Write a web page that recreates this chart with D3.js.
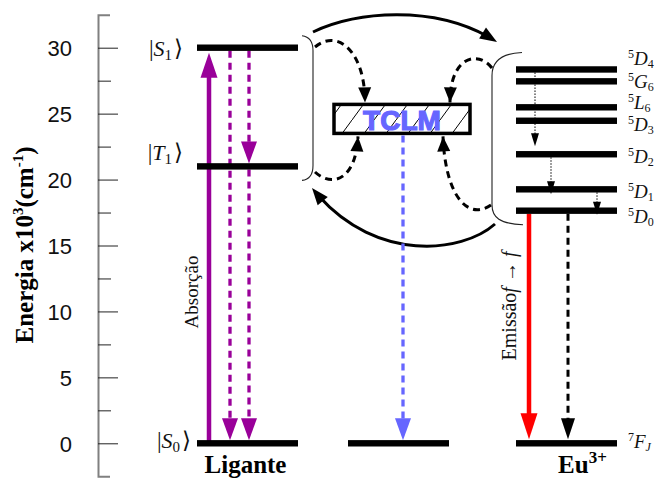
<!DOCTYPE html>
<html>
<head>
<meta charset="utf-8">
<script src="https://cdn.jsdelivr.net/npm/d3@7"></script>
<style>
  body { margin: 0; background: #fff; }
  svg { display: block; }
</style>
</head>
<body>
<svg id="chart" width="667" height="479"></svg>
<script>
// ---------- data (energies in 10^3 cm^-1) ----------
const columns = ["Ligante", "TCLM", "Eu3+"];

const ligandLevels = [
  { key: "S1", name: "S", sub: "1", value: 30.0 },
  { key: "T1", name: "T", sub: "1", value: 21.0 },
  { key: "S0", name: "S", sub: "0", value: 0.0 }
];

const tclmLevels = [
  { key: "G", value: 0.0 }
];
const tclmBand = [23.5, 25.7];          // lower / upper edge of the TCLM state

const euLevels = [
  { key: "5D4", sup: "5", name: "D", sub: "4", value: 28.35 },
  { key: "5G6", sup: "5", name: "G", sub: "6", value: 27.45 },
  { key: "5L6", sup: "5", name: "L", sub: "6", value: 25.48 },
  { key: "5D3", sup: "5", name: "D", sub: "3", value: 24.46 },
  { key: "5D2", sup: "5", name: "D", sub: "2", value: 21.92 },
  { key: "5D1", sup: "5", name: "D", sub: "1", value: 19.26 },
  { key: "5D0", sup: "5", name: "D", sub: "0", value: 17.64 },
  { key: "7FJ", sup: "7", name: "F", sub: "J", value: 0.0 }
];

const majorTicks = [0, 5, 10, 15, 20, 25, 30];
const minorTicks = [2.5, 7.5, 12.5, 17.5, 22.5, 27.5];

// vertical transitions
const ligandTransitions = [
  { from: "S0", to: "S1", style: "absorb" },
  { from: "S1", to: "S0", style: "purpleDash" },
  { from: "S1", to: "T1", style: "purpleDash" },
  { from: "T1", to: "S0", style: "purpleDash" }
];
const euTransitions = [
  { from: "5D0", to: "7FJ", style: "red" },
  { from: "5D0", to: "7FJ", style: "blackDash" }
];
const euRelax = [
  { from: "5D4", to: "5D2" },
  { from: "5D2", to: "5D1" },
  { from: "5D1", to: "5D0" }
];

// ---------- layout ----------
const svg = d3.select("#chart");
const y = d3.scaleLinear().domain([0, 30]).range([443.3, 47.7]);
const colLeft = d3.scaleOrdinal().domain(columns).range([197, 348, 516]);
const barW = 101;
const axisX = 98;

const serif = "'Liberation Serif', 'DejaVu Serif', serif";
const sans = "'Liberation Sans', Arial, sans-serif";
const PURPLE = "#990099", BLUE = "#6666ff", RED = "#ff0000";

const byKey = arr => Object.fromEntries(arr.map(d => [d.key, d]));
const L = byKey(ligandLevels), E = byKey(euLevels);

// ---------- defs ----------
const defs = svg.append("defs");
const hatch = defs.append("pattern")
  .attr("id", "hatch").attr("patternUnits", "userSpaceOnUse")
  .attr("width", 22).attr("height", 30);
hatch.append("line").attr("x1", 0).attr("y1", 30).attr("x2", 22).attr("y2", 0)
  .attr("stroke", "#000").attr("stroke-width", 1);

// ---------- axis ----------
const axisG = svg.append("g").attr("transform", `translate(${axisX},0)`);
const yAxis = d3.scaleLinear().domain([-2.5, 32.5]).range([y(-2.5), y(32.5)]);
axisG.call(d3.axisLeft(yAxis).tickValues(majorTicks).tickSize(-20).tickSizeOuter(-12)
  .tickPadding(26).tickFormat(d3.format("d")));
axisG.select(".domain").attr("stroke", "#808080").attr("stroke-width", 2);
axisG.selectAll(".tick line").attr("stroke", "#222").attr("stroke-width", 1);
axisG.selectAll(".tick text").attr("font-family", sans).attr("font-size", 22)
  .attr("fill", "#111").attr("dy", "0.36em");

const minorG = svg.append("g").attr("transform", `translate(${axisX},0)`);
minorG.call(d3.axisLeft(yAxis).tickValues(minorTicks).tickSize(-13).tickFormat(""));
minorG.select(".domain").remove();
minorG.selectAll(".tick line").attr("stroke", "#222").attr("stroke-width", 1);

// axis title
const title = svg.append("text")
  .attr("transform", "translate(33,245) rotate(-90)")
  .attr("text-anchor", "middle")
  .attr("font-family", serif).attr("font-weight", "bold").attr("font-size", 25)
  .attr("fill", "#000");
title.append("tspan").text("Energia x10");
title.append("tspan").attr("font-size", 15).attr("dy", -10).text("3");
title.append("tspan").attr("dy", 10).text("(cm");
title.append("tspan").attr("font-size", 15).attr("dy", -10).text("-1");
title.append("tspan").attr("dy", 10).text(")");

// ---------- helpers ----------
function head(x, tip, dir, len, w, color) {
  // dir: +1 points down, -1 points up
  const b = tip - dir * len;
  svg.append("path")
    .attr("d", `M${x},${tip} L${x - w / 2},${b} L${x + w / 2},${b} Z`)
    .attr("fill", color);
}
function vArrow(x, y0, tip, opt) {
  const dir = tip > y0 ? 1 : -1;
  svg.append("line")
    .attr("x1", x).attr("x2", x).attr("y1", y0).attr("y2", tip - dir * opt.len * 0.6)
    .attr("stroke", opt.color).attr("stroke-width", opt.width)
    .attr("stroke-dasharray", opt.dash || null);
  head(x, tip, dir, opt.len, opt.head, opt.color);
}
function curveArrow(d, opt) {
  const p = svg.append("path").attr("d", d).attr("fill", "none")
    .attr("stroke", "#000").attr("stroke-width", opt.width)
    .attr("stroke-dasharray", opt.dash || null);
  const node = p.node(), total = node.getTotalLength();
  const tip = node.getPointAtLength(total);
  const back = node.getPointAtLength(total - 6);
  const ang = Math.atan2(tip.y - back.y, tip.x - back.x);
  const len = opt.len, w = opt.head;
  const bx = tip.x - len * Math.cos(ang), by = tip.y - len * Math.sin(ang);
  const nx = -Math.sin(ang) * w / 2, ny = Math.cos(ang) * w / 2;
  if (!opt.dash) p.attr("stroke-dasharray", `${total - len * 0.6} ${total}`);
  svg.append("path")
    .attr("d", `M${tip.x},${tip.y} L${bx + nx},${by + ny} L${bx - nx},${by - ny} Z`)
    .attr("fill", "#000");
}

// ---------- brackets and transfer curves ----------
const ligR = colLeft("Ligante") + barW;
const euL = colLeft("Eu3+");
const lbTop = y(L.S1.value) - 12, lbBot = y(L.T1.value) + 14;
svg.append("path")
  .attr("d", `M${ligR + 4},${lbTop} C${ligR + 12},${lbTop + 1} ${ligR + 15},${lbTop + 7} ${ligR + 15},${lbTop + 15}
              L${ligR + 15},${lbBot - 15} C${ligR + 15},${lbBot - 6} ${ligR + 12},${lbBot - 1} ${ligR + 4},${lbBot}`)
  .attr("fill", "none").attr("stroke", "#222").attr("stroke-width", 1.1);

const ebTop = y(E["5D4"].value) - 17, ebBot = y(E["5D0"].value) + 14;
svg.append("path")
  .attr("d", `M${euL + 6},${ebTop} C${euL - 16},${ebTop + 1} ${euL - 24},${ebTop + 10} ${euL - 24},${ebTop + 23}
              L${euL - 24},${ebBot - 20} C${euL - 24},${ebBot - 7} ${euL - 16},${ebBot - 1} ${euL + 7},${ebBot}`)
  .attr("fill", "none").attr("stroke", "#222").attr("stroke-width", 1.1);

// ligand -> Eu (top) and Eu -> ligand (back transfer, bottom)
curveArrow(`M313,32 C360,10 440,5 497,42`, { width: 3, len: 17, head: 13 });
curveArrow(`M495,224 C460,255 370,262 312,188`, { width: 3, len: 17, head: 13 });

// TCLM box
const boxX0 = 334, boxX1 = 470;
const boxY0 = y(tclmBand[1]), boxY1 = y(tclmBand[0]);

// dashed links to/from TCLM
curveArrow(`M315,47 C338,28 365,52 365,${boxY0 - 2}`, { width: 3, dash: "7,5", len: 15, head: 13 });
curveArrow(`M492,68 C478,50 450,56 450,${boxY0 - 2}`, { width: 3, dash: "7,5", len: 15, head: 13 });
curveArrow(`M315,172 C332,188 356,180 358,${boxY1 + 3}`, { width: 3, dash: "7,5", len: 15, head: 13 });
curveArrow(`M491,205 C466,222 445,192 443,${boxY1 + 3}`, { width: 3, dash: "7,5", len: 15, head: 13 });

svg.append("rect")
  .attr("x", boxX0).attr("y", boxY0).attr("width", boxX1 - boxX0).attr("height", boxY1 - boxY0)
  .attr("fill", "url(#hatch)").attr("stroke", "#000").attr("stroke-width", 3.5);
svg.append("text")
  .attr("x", (boxX0 + boxX1) / 2).attr("y", boxY1 - 3)
  .attr("text-anchor", "middle")
  .attr("font-family", sans).attr("font-weight", "900").attr("font-size", 28)
  .attr("fill", BLUE).attr("stroke", BLUE).attr("stroke-width", 1.2)
  .text("TCLM");

// ---------- vertical transitions ----------
const lx = colLeft("Ligante");
const ligX = { absorb: lx + 12, purpleDash: [lx + 33, lx + 52, lx + 52] };
let dashIdx = 0;
ligandTransitions.forEach(t => {
  const y0 = y(L[t.from].value), y1 = y(L[t.to].value);
  if (t.style === "absorb") {
    vArrow(ligX.absorb, y0, y1 + 5, { color: PURPLE, width: 4.5, len: 25, head: 17 });
  } else {
    const x = ligX.purpleDash[dashIdx++];
    vArrow(x, y0 + 3, y1 - 3, { color: PURPLE, width: 3.3, dash: "7,5", len: 22, head: 16 });
  }
});

// TCLM -> ground (non-radiative)
vArrow((boxX0 + boxX1) / 2 + 1, boxY1 + 2, y(tclmLevels[0].value) - 3,
  { color: BLUE, width: 3.3, dash: "7,5", len: 22, head: 16 });

// Eu emission and non-radiative decay
euTransitions.forEach(t => {
  const y0 = y(E[t.from].value), y1 = y(E[t.to].value);
  if (t.style === "red") vArrow(euL + 13, y0 + 3, y1 - 4, { color: RED, width: 4.5, len: 26, head: 17 });
  else vArrow(euL + 52, y0 + 3, y1 - 4, { color: "#000", width: 3, dash: "7,5", len: 21, head: 14 });
});

// internal relaxation between Eu levels (dotted)
const relaxX = [euL + 19, euL + 35, euL + 81];
const relaxTipShift = [-8, 5, 4];
euRelax.forEach((t, i) => {
  const y0 = y(E[t.from].value) + 3, tip = y(E[t.to].value) + relaxTipShift[i];
  svg.append("line").attr("x1", relaxX[i]).attr("x2", relaxX[i]).attr("y1", y0).attr("y2", tip - 8)
    .attr("stroke", "#000").attr("stroke-width", 1).attr("stroke-dasharray", "1.5,1.5");
  head(relaxX[i], tip, 1, 13, 8, "#000");
});

// ---------- level bars ----------
function bars(levels, col) {
  svg.append("g").selectAll("rect").data(levels).join("rect")
    .attr("x", colLeft(col)).attr("width", barW)
    .attr("y", d => y(d.value) - 3.2).attr("height", 6.4)
    .attr("fill", "#000");
}
bars(ligandLevels, "Ligante");
bars(tclmLevels, "TCLM");
bars(euLevels, "Eu3+");

// ---------- level labels ----------
const ligLabelPos = { S1: [183, 8], T1: [183, -6], S0: [191, 5] };
ligandLevels.forEach(d => {
  const [xr, dy] = ligLabelPos[d.key];
  const t = svg.append("text").attr("x", xr).attr("y", y(d.value) + dy)
    .attr("text-anchor", "end").attr("font-family", serif).attr("font-size", 22).attr("fill", "#111");
  t.append("tspan").attr("font-size", 23).text("|");
  t.append("tspan").attr("font-style", "italic").text(d.name);
  t.append("tspan").attr("font-size", 15).attr("dy", 4).text(d.sub);
  t.append("tspan").attr("dy", -4).attr("font-family", "'DejaVu Sans', sans-serif")
    .attr("font-size", 23).attr("dx", 2).text("\u27E9");
});

// Eu term symbols, nudged apart where levels crowd together
const euLabelShift = { "5D4": -4, "5G6": 7, "5L6": 2, "5D3": 10, "5D2": 9, "5D1": 9, "5D0": 12, "7FJ": 5 };
euLevels.forEach(d => {
  const t = svg.append("text").attr("x", 628).attr("y", y(d.value) + euLabelShift[d.key])
    .attr("font-family", serif).attr("font-size", 19).attr("fill", "#111");
  t.append("tspan").attr("font-size", 12).attr("dy", -7).text(d.sup);
  t.append("tspan").attr("font-style", "italic").attr("dy", 7).attr("font-size", 19).text(d.name);
  t.append("tspan").attr("font-size", 12).attr("dy", 3).attr("font-style", d.sub === "J" ? "italic" : null).text(d.sub);
});

// ---------- column names ----------
svg.append("text").attr("x", colLeft("Ligante") + barW / 2 - 2).attr("y", 473)
  .attr("text-anchor", "middle").attr("font-family", serif).attr("font-weight", "bold")
  .attr("font-size", 25).attr("fill", "#000").text("Ligante");
const eu = svg.append("text").attr("x", colLeft("Eu3+") + barW / 2 + 16).attr("y", 473)
  .attr("text-anchor", "middle").attr("font-family", serif).attr("font-weight", "bold")
  .attr("font-size", 25).attr("fill", "#000");
eu.append("tspan").text("Eu");
eu.append("tspan").attr("font-size", 17).attr("dy", -10).text("3+");

// ---------- process labels ----------
svg.append("text").attr("transform", "translate(198,292) rotate(-90)")
  .attr("text-anchor", "middle").attr("font-family", serif).attr("font-size", 19)
  .attr("fill", "#111").text("Absorção");
const em = svg.append("text").attr("transform", "translate(516,306) rotate(-90)")
  .attr("text-anchor", "middle").attr("font-family", serif).attr("font-size", 20)
  .attr("fill", "#111");
em.append("tspan").text("Emissão");
em.append("tspan").attr("font-style", "italic").text("f");
em.append("tspan").text(" \u2192 ");
em.append("tspan").attr("font-style", "italic").text("f");
</script>
</body>
</html>
